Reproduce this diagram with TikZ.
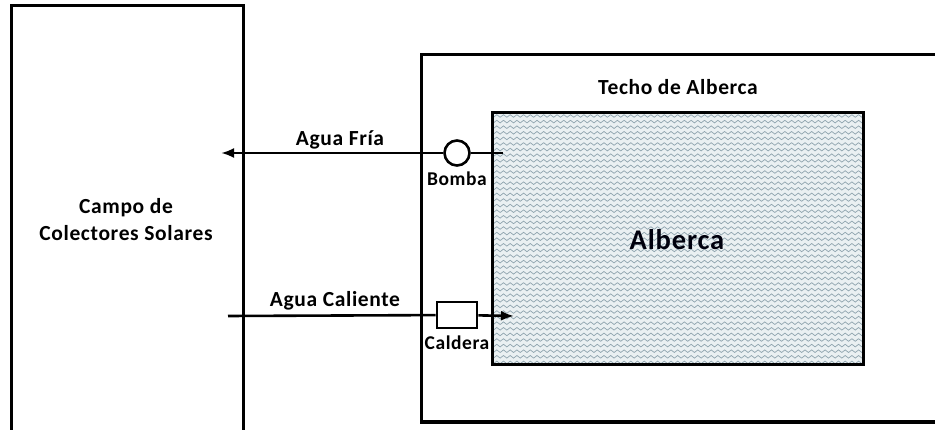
\documentclass[tikz,border=0pt]{standalone}
\usepackage{fontspec}
\setmainfont{Carlito}[LetterSpace=3]
\usepackage{tikz}
\usetikzlibrary{arrows.meta,calc,positioning,decorations.pathmorphing}
\usepackage{xcolor}
\definecolor{poolbg}{HTML}{EAF0F2}
\definecolor{poolwave}{HTML}{8FA4AE}

\tikzset{
  wall/.style={line width=3pt},
  pipe/.style={line width=2.6pt},
  lbl/.style={font=\fontsize{21.5}{25}\selectfont\bfseries},
  tag/.style={font=\fontsize{19.5}{22}\selectfont\bfseries},
  wave/.style={draw=poolwave, line width=0.7pt, decorate,
    decoration={snake, segment length=6.7pt, amplitude=1.3pt}}
}

\begin{document}
\begin{tikzpicture}[x=1pt,y=-1pt]
\useasboundingbox (0,0) rectangle (935,430);
% campo de colectores (abierto abajo)
\draw[wall] (11,432) -- (11,6) -- (243,6) -- (243,432);
\node[lbl, align=center] (campo) at (126,220) {Campo de\\[2pt]Colectores Solares};
% techo (abierto a la derecha)
\draw[wall] (937,55) -- (421,55) -- (421,422) -- (937,422);
\node[lbl] (techo) at (678,87) {Techo de Alberca};
% alberca
\fill[poolbg] (492,113) rectangle (863,365);
\begin{scope}
\clip (492,113) rectangle (863,365);
\foreach \y in {116,121.6,...,366} {
  \draw[wave] (488,\y) -- (870,\y);
}
\end{scope}
\draw[wall] (492,113) rectangle (863,365);
\node (alberca) at (677,240) {};
\node[font=\fontsize{28.5}{32}\selectfont\bfseries, text=black!95!blue] at (alberca) {Alberca};
% agua fria
\coordinate (fria-in) at (503,153);
\coordinate (fria-out) at (221,153);
\node[circle, draw, line width=2.6pt, minimum size=25pt, inner sep=0pt, fill=white] (bomba) at (457,153) {};
\draw[pipe] (fria-in) -- (bomba);
\draw[pipe, -{Latex[length=13pt,width=10pt]}] (bomba) -- (fria-out);
\node[lbl] at (340,140) {Agua Fría};
\node[tag] at (457,179) {Bomba};
% agua caliente
\coordinate (cal-in) at (228,316);
\coordinate (cal-out) at (514,316);
\node[rectangle, draw, line width=2.6pt, minimum width=40pt, minimum height=26pt, inner sep=0pt, fill=white] (caldera) at (457,315) {};
\draw[pipe] (cal-in) -- (caldera);
\draw[pipe, -{Latex[length=13pt,width=10pt]}] (caldera) -- (cal-out);
\node[lbl] at (335,301) {Agua Caliente};
\node[tag] at (457,343) {Caldera};
\end{tikzpicture}
\end{document}
